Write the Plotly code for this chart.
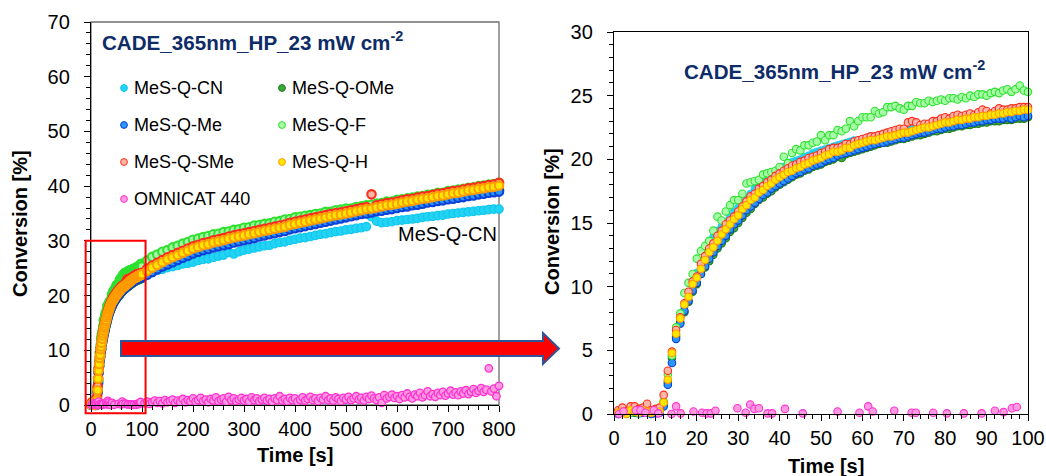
import plotly.graph_objects as go

W, H = 1046, 476

# ---------------------------------------------------------------------------
# Photo-DSC conversion data (CADE, 365 nm, 23 mW cm-2)
# ---------------------------------------------------------------------------
# fine sampling: 1 s steps over the first 100 s
t_fine = list(range(1, 101))
# coarse sampling for the long run: 10 s steps from 110 s to 800 s
t_coarse = list(range(110, 801, 10))

cn_fine = [
    0.0, 0.1, 0.0, 0.2, 0.1, 0.0, 0.1, 0.2, 0.1, 0.0,
    0.1, 0.7, 2.6, 4.5, 6.3, 7.4, 8.4, 9.4, 10.4, 11.1,
    11.9, 12.6, 13.3, 13.9, 14.4, 14.7, 15.1, 15.5, 15.9, 16.2,
    16.6, 17.0, 17.3, 17.7, 18.0, 18.3, 18.5, 18.8, 19.0, 19.2,
    19.4, 19.6, 19.8, 19.9, 20.0, 20.2, 20.3, 20.5, 20.6, 20.7,
    20.8, 20.9, 21.0, 21.1, 21.2, 21.3, 21.4, 21.5, 21.5, 21.6,
    21.7, 21.8, 21.8, 21.9, 22.0, 22.1, 22.1, 22.2, 22.3, 22.3,
    22.4, 22.4, 22.5, 22.6, 22.6, 22.7, 22.7, 22.8, 22.9, 22.9,
    23.0, 23.0, 23.1, 23.1, 23.2, 23.2, 23.2, 23.3, 23.3, 23.4,
    23.4, 23.4, 23.5, 23.5, 23.5, 23.6, 23.6, 23.6, 23.7, 23.7,
]
cn_coarse = [
    23.9, 24.2, 24.6, 24.8, 25.1, 25.3, 25.5, 25.8, 25.9, 26.1,
    26.4, 26.6, 26.7, 27.0, 27.2, 27.4, 27.9, 27.6, 28.0, 28.3,
    28.5, 28.7, 28.9, 29.1, 29.2, 29.5, 29.7, 29.8, 30.1, 30.3,
    30.5, 30.6, 30.8, 31.0, 31.2, 31.3, 31.5, 31.7, 31.8, 32.0,
    32.1, 32.3, 32.4, 32.6, 34.4, 33.6, 33.3, 33.4, 33.5, 33.7,
    33.8, 33.9, 34.0, 34.1, 34.3, 34.4, 34.5, 34.6, 34.7, 34.9,
    35.0, 35.1, 35.2, 35.3, 35.4, 35.5, 35.6, 35.7, 35.8, 35.8,
]

ome_fine = [
    0.1, 0.2, 0.3, 0.2, 0.1, 0.2, 0.3, 0.1, 0.2, 0.1,
    0.3, 0.9, 2.5, 4.4, 6.1, 7.2, 8.0, 8.8, 9.6, 10.2,
    11.0, 11.5, 12.0, 12.5, 13.0, 13.4, 13.8, 14.3, 14.6, 15.0,
    15.4, 15.8, 16.1, 16.5, 16.8, 17.0, 17.3, 17.5, 17.8, 18.0,
    18.2, 18.4, 18.6, 18.8, 18.9, 19.1, 19.2, 19.4, 19.5, 19.6,
    19.8, 19.9, 20.0, 20.2, 20.1, 20.4, 20.5, 20.6, 20.7, 20.8,
    20.9, 21.0, 21.1, 21.2, 21.3, 21.3, 21.4, 21.5, 21.6, 21.6,
    21.7, 21.8, 21.9, 21.9, 22.0, 22.1, 22.2, 22.2, 22.3, 22.4,
    22.4, 22.5, 22.6, 22.6, 22.7, 22.7, 22.8, 22.8, 22.9, 22.9,
    23.0, 23.0, 23.0, 23.1, 23.1, 23.1, 23.2, 23.2, 23.2, 23.3,
]
ome_coarse = [
    24.0, 24.5, 25.0, 25.4, 25.9, 26.3, 26.7, 27.1, 27.5, 27.9,
    28.2, 28.5, 28.7, 29.0, 29.2, 29.4, 29.6, 29.9, 30.1, 30.3,
    30.5, 30.7, 31.0, 31.2, 31.4, 31.6, 31.8, 32.0, 32.3, 32.5,
    32.7, 32.9, 33.1, 33.3, 33.5, 33.7, 33.9, 34.1, 34.3, 34.5,
    34.7, 34.9, 35.1, 35.2, 35.4, 35.6, 35.7, 35.9, 36.0, 36.2,
    36.4, 36.5, 36.7, 36.8, 37.0, 37.2, 37.3, 37.5, 37.6, 37.8,
    37.9, 38.1, 38.2, 38.4, 38.5, 38.7, 38.8, 39.0, 39.1, 39.3,
]

me_fine = [
    0.0, 0.1, 0.2, 0.1, 0.3, 0.2, 0.1, 0.2, 0.0, 0.1,
    0.1, 0.6, 2.3, 4.0, 5.9, 7.1, 8.1, 8.9, 9.7, 10.3,
    11.0, 11.6, 12.2, 12.7, 13.2, 13.6, 14.0, 14.5, 14.9, 15.2,
    15.6, 16.0, 16.3, 16.6, 16.9, 17.2, 17.4, 17.7, 17.9, 18.1,
    18.3, 18.5, 18.7, 18.9, 19.0, 19.2, 19.3, 19.5, 19.6, 19.7,
    19.9, 20.0, 20.1, 20.3, 20.4, 20.5, 20.6, 20.7, 20.8, 20.9,
    21.0, 21.1, 21.2, 21.3, 21.3, 21.4, 21.5, 21.6, 21.7, 21.7,
    21.8, 21.9, 22.0, 22.1, 22.1, 22.2, 22.3, 22.4, 22.4, 22.5,
    22.6, 22.6, 22.7, 22.7, 22.8, 22.9, 22.9, 23.0, 23.0, 23.1,
    23.1, 23.2, 23.2, 23.2, 23.3, 23.2, 23.3, 23.4, 23.3, 23.4,
]
me_coarse = [
    23.8, 24.3, 24.8, 25.3, 25.7, 26.1, 26.5, 26.9, 27.3, 27.7,
    28.0, 28.3, 28.5, 28.8, 29.0, 29.2, 29.4, 29.7, 29.9, 30.1,
    30.3, 30.5, 30.8, 31.0, 31.2, 31.4, 31.6, 31.8, 32.1, 32.3,
    32.5, 32.7, 32.9, 33.1, 33.3, 33.5, 33.7, 33.9, 34.1, 34.3,
    34.5, 34.7, 34.9, 35.0, 35.2, 35.4, 35.5, 35.7, 35.8, 36.0,
    36.2, 36.3, 36.5, 36.6, 36.8, 37.0, 37.1, 37.3, 37.4, 37.6,
    37.7, 37.9, 38.0, 38.2, 38.3, 38.5, 38.6, 38.8, 38.9, 39.0,
]

f_fine = [
    0.2, 0.1, 0.3, 0.1, 0.2, 0.4, 0.2, 0.1, 0.3, 0.2,
    0.3, 1.0, 3.1, 4.6, 6.8, 7.9, 9.5, 10.3, 11.0, 12.2,
    12.8, 13.2, 13.6, 14.4, 15.5, 15.2, 15.9, 16.4, 16.8, 16.8,
    17.3, 18.1, 18.2, 18.3, 18.4, 18.8, 18.9, 19.0, 19.1, 19.4,
    20.2, 19.7, 20.5, 20.8, 20.7, 21.1, 21.1, 21.3, 21.4, 21.9,
    21.5, 21.9, 21.9, 22.3, 22.2, 22.4, 23.0, 22.6, 23.0, 23.3,
    23.3, 23.3, 23.8, 23.6, 23.7, 24.1, 24.1, 24.2, 24.0, 23.9,
    24.2, 24.2, 24.5, 24.4, 24.4, 24.6, 24.5, 24.6, 24.7, 24.6,
    24.8, 24.8, 24.7, 24.9, 24.8, 25.0, 24.9, 25.1, 25.1, 25.0,
    25.2, 25.3, 25.2, 25.4, 25.5, 25.3, 25.5, 25.8, 25.4, 25.3,
]
f_coarse = [
    26.4, 27.1, 27.5, 28.0, 28.3, 28.8, 29.1, 29.5, 29.8, 30.2,
    30.4, 30.7, 30.9, 31.2, 31.3, 31.6, 31.7, 32.0, 32.1, 32.4,
    32.5, 32.8, 32.9, 33.1, 33.2, 33.5, 33.6, 33.9, 34.0, 34.3,
    34.4, 34.6, 34.7, 34.9, 35.0, 35.3, 35.3, 35.6, 35.7, 35.9,
    35.9, 36.2, 36.3, 36.5, 36.6, 36.8, 36.9, 37.2, 37.2, 37.5,
    37.6, 37.8, 37.9, 38.1, 38.2, 38.4, 38.5, 38.8, 38.8, 39.1,
    39.2, 39.4, 39.5, 39.7, 39.8, 40.0, 40.1, 40.3, 40.4, 40.6,
]

sme_fine = [
    0.3, 0.5, 0.2, 0.6, 0.6, 0.4, 0.5, 0.8, 0.3, 0.4,
    0.5, 1.5, 3.4, 4.9, 6.6, 7.6, 8.7, 9.6, 10.4, 10.8,
    11.8, 12.4, 13.0, 13.4, 14.0, 14.4, 14.9, 15.2, 15.5, 15.9,
    16.3, 16.7, 17.1, 17.3, 17.7, 17.9, 18.2, 18.4, 18.7, 18.9,
    19.1, 19.3, 19.5, 19.6, 19.8, 19.9, 20.1, 20.2, 20.3, 20.5,
    20.6, 20.8, 20.9, 20.9, 21.0, 21.2, 21.2, 21.4, 21.5, 21.6,
    21.7, 21.8, 21.8, 21.9, 22.0, 22.1, 22.2, 22.3, 22.4, 22.4,
    22.9, 23.0, 22.9, 22.7, 22.8, 22.8, 23.0, 23.0, 23.2, 23.3,
    23.2, 23.4, 23.5, 23.4, 23.5, 23.6, 23.5, 23.7, 23.9, 23.8,
    23.6, 23.8, 24.0, 23.9, 23.9, 24.0, 24.0, 24.1, 24.1, 24.1,
]
sme_coarse = [
    24.9, 25.5, 26.0, 26.5, 27.0, 27.4, 27.8, 28.2, 28.6, 29.0,
    29.3, 29.6, 29.8, 30.1, 30.3, 30.5, 30.8, 31.0, 31.2, 31.4,
    31.6, 31.8, 32.0, 32.2, 32.4, 32.6, 32.8, 33.0, 33.3, 33.5,
    33.7, 33.9, 34.1, 34.3, 34.5, 34.7, 34.9, 35.1, 35.2, 35.4,
    35.6, 35.8, 36.0, 36.2, 38.5, 36.5, 36.7, 36.9, 37.0, 37.2,
    37.4, 37.6, 37.7, 37.9, 38.1, 38.2, 38.4, 38.6, 38.7, 38.9,
    39.1, 39.2, 39.4, 39.6, 39.7, 39.9, 40.0, 40.2, 40.3, 40.6,
]

h_fine = [
    0.1, 0.2, 0.0, 0.3, 0.2, 0.1, 0.3, 0.2, 0.1, 0.2,
    0.2, 0.9, 2.7, 4.8, 6.3, 7.5, 8.6, 9.2, 10.2, 10.7,
    11.4, 12.1, 12.7, 13.1, 13.6, 14.1, 14.5, 14.9, 15.3, 15.6,
    16.1, 16.4, 16.8, 17.0, 17.4, 17.6, 17.9, 18.1, 18.4, 18.6,
    18.8, 19.0, 19.1, 19.3, 19.4, 19.6, 19.7, 19.9, 20.0, 20.1,
    20.3, 20.4, 20.6, 20.6, 20.7, 20.9, 20.9, 21.1, 21.2, 21.3,
    21.4, 21.5, 21.5, 21.6, 21.7, 21.8, 21.8, 21.9, 22.0, 22.1,
    22.1, 22.2, 22.3, 22.4, 22.5, 22.5, 22.6, 22.7, 22.8, 22.9,
    22.9, 23.0, 23.1, 23.1, 23.2, 23.2, 23.3, 23.3, 23.4, 23.4,
    23.5, 23.5, 23.6, 23.6, 23.7, 23.7, 23.8, 23.8, 23.9, 23.9,
]
h_coarse = [
    24.5, 25.1, 25.6, 26.1, 26.6, 27.0, 27.4, 27.8, 28.2, 28.6,
    28.9, 29.2, 29.4, 29.7, 29.9, 30.1, 30.4, 30.6, 30.8, 31.0,
    31.2, 31.4, 31.6, 31.8, 32.0, 32.2, 32.4, 32.6, 32.9, 33.1,
    33.3, 33.5, 33.7, 33.9, 34.1, 34.3, 34.5, 34.7, 34.8, 35.0,
    35.2, 35.4, 35.6, 35.8, 35.9, 36.1, 36.3, 36.5, 36.6, 36.8,
    37.0, 37.2, 37.3, 37.5, 37.7, 37.8, 38.0, 38.2, 38.3, 38.5,
    38.7, 38.8, 39.0, 39.2, 39.3, 39.5, 39.6, 39.8, 39.9, 40.1,
]

# reference photoinitiator: sparse early points, 5 s steps afterwards
omni_fine_t = [1.2, 2.3, 5.3, 6.4, 7.6, 9.6, 10.7, 13.9, 15.0, 16.1,
               19.2, 21.3, 22.4, 23.4, 24.5, 29.8, 31.8, 32.9, 33.9, 35.0,
               37.1, 38.2, 41.3, 45.6, 54.0, 59.3, 61.4, 62.5, 67.7, 71.9,
               72.9, 77.1, 80.4, 84.5, 88.8, 92.0, 94.1, 96.1, 97.3]
omni_fine_y = [0.0, 0.2, 0.3, 0.3, 0.1, 0.3, 0.05, 0.0, 0.6, 0.05,
               0.2, 0.1, 0.05, 0.05, 0.25, 0.45, 0.1, 0.75, 0.4, 0.45,
               0.05, 0.05, 0.4, 0.05, 0.2, 0.1, 0.6, 0.2, 0.25, 0.1,
               0.1, 0.1, 0.05, 0.05, 0.05, 0.25, 0.15, 0.45, 0.55]
omni_coarse = [
    0.3, 0.6, 0.2, 0.5, 0.8, 0.4, 0.7, 0.3, 0.9, 0.5,
    0.7, 1.0, 0.4, 0.8, 0.6, 1.1, 0.5, 0.9, 0.7, 1.2,
    0.6, 0.9, 1.3, 0.7, 1.0, 0.5, 1.1, 0.8, 1.4, 0.7,
    1.0, 1.2, 0.6, 1.5, 0.9, 1.2, 0.7, 1.0, 1.3, 0.8,
    1.1, 0.6, 1.4, 0.9, 1.2, 0.7, 1.0, 1.3, 0.8, 1.1,
    0.6, 1.2, 0.9, 1.6, 0.8, 1.1, 0.7, 1.3, 0.9, 1.2,
    0.6, 1.0, 1.4, 0.8, 1.1, 1.5, 0.9, 1.2, 0.7, 1.3,
    1.0, 1.6, 0.9, 1.2, 0.8, 1.4, 1.1, 0.7, 1.3, 1.0,
    1.5, 0.9, 1.2, 1.6, 1.0, 1.3, 0.8, 1.5, 1.1, 1.7,
    1.2, 0.9, 1.4, 0.4, 1.8, 1.2, 1.5, 1.9, 1.3, 1.6,
    1.1, 1.8, 1.4, 2.1, 1.5, 1.2, 1.9, 1.6, 2.2, 1.4,
    1.8, 2.5, 1.6, 2.0, 1.5, 2.2, 1.8, 2.4, 1.7, 2.1,
    2.6, 1.9, 2.3, 1.8, 2.5, 2.1, 2.7, 2.0, 2.4, 2.9,
    2.2, 2.6, 3.1, 2.4, 2.8, 6.7, 2.5, 3.0, 1.6, 3.5,
]
t_omni_coarse = [105 + 5 * i for i in range(len(omni_coarse))]

# name, fine values, coarse values, marker fill, marker outline, outline width
series = [
    ("MeS-Q-CN", cn_fine, cn_coarse, "#22D3F4", "#10C6EE", 0.6),
    ("MeS-Q-OMe", ome_fine, ome_coarse, "#3AA83A", "#1E7E1E", 1.1),
    ("MeS-Q-Me", me_fine, me_coarse, "#2A96F5", "#0A3FD8", 1.1),
    ("MeS-Q-F", f_fine, f_coarse, "#A6FFA6", "#2FE02F", 1.1),
    ("MeS-Q-SMe", sme_fine, sme_coarse, "#FFB6A6", "#FF2A1A", 1.1),
    ("MeS-Q-H", h_fine, h_coarse, "#FFE600", "#FF9C00", 1.1),
]
omni_style = ("OMNICAT 440", "#FF9ADF", "#FF30D2", 1.1)

FONT = "Arial, 'Liberation Sans', sans-serif"
NAVY = "#0E2C68"
MSIZE = 7.5
# the dense overview plot uses heavier outlines so the curves read as bands
OVERVIEW_EDGE = 2.1

fig = go.Figure()

for name, fine, coarse, fill, edge, lw in series:
    fig.add_trace(go.Scatter(
        x=t_fine + t_coarse, y=fine + coarse, mode="markers", name=name,
        marker=dict(size=MSIZE + 1, color=fill,
                    line=dict(color=edge, width=lw * OVERVIEW_EDGE / 1.1)),
        cliponaxis=False, showlegend=False, xaxis="x", yaxis="y"))
    fig.add_trace(go.Scatter(
        x=t_fine, y=fine, mode="markers", name=name,
        marker=dict(size=MSIZE, color=fill, line=dict(color=edge, width=lw)),
        cliponaxis=False, showlegend=False, xaxis="x2", yaxis="y2"))

o_name, o_fill, o_edge, o_lw = omni_style
fig.add_trace(go.Scatter(
    x=omni_fine_t + t_omni_coarse, y=omni_fine_y + omni_coarse,
    mode="markers", name=o_name,
    marker=dict(size=MSIZE, color=o_fill, line=dict(color=o_edge, width=1.3)),
    cliponaxis=False, showlegend=False, xaxis="x", yaxis="y"))
fig.add_trace(go.Scatter(
    x=omni_fine_t, y=omni_fine_y, mode="markers", name=o_name,
    marker=dict(size=MSIZE, color=o_fill, line=dict(color=o_edge, width=o_lw)),
    cliponaxis=False, showlegend=False, xaxis="x2", yaxis="y2"))


def px_x(px):
    return px / W


def px_y(py):
    return 1 - py / H


# plot-area boxes in pixels: (left, top, right, bottom)
LEFT_BOX = (91, 22, 499, 405)
RIGHT_BOX = (614, 32, 1028, 414)

tickfont = dict(family=FONT, size=20, color="black")


def axis(box, horizontal, rng, dtick, minor, mirror):
    if horizontal:
        dom = [px_x(box[0]), px_x(box[2])]
    else:
        dom = [px_y(box[3]), px_y(box[1])]
    return dict(
        domain=dom, range=rng, dtick=dtick, tick0=0,
        showgrid=False, zeroline=False, showline=True,
        linecolor="black", linewidth=1.3, mirror=mirror,
        ticks="outside", ticklen=6, tickwidth=1.2, tickcolor="black",
        minor=dict(dtick=minor, ticks="outside", ticklen=4,
                   tickwidth=1, tickcolor="black", showgrid=False),
        tickfont=tickfont, automargin=False, fixedrange=True,
        ticklabelstandoff=0 if horizontal else 10,
    )


fig.update_layout(
    width=W, height=H, autosize=False,
    margin=dict(l=0, r=0, t=0, b=0),
    paper_bgcolor="white", plot_bgcolor="white",
    font=dict(family=FONT, color="black"),
    showlegend=False,
    xaxis=axis(LEFT_BOX, True, [0, 800], 100, 20, False) | dict(anchor="y"),
    yaxis=axis(LEFT_BOX, False, [0, 70], 10, 2, False) | dict(anchor="x"),
    xaxis2=axis(RIGHT_BOX, True, [0, 100], 10, 2, True) | dict(anchor="y2"),
    yaxis2=axis(RIGHT_BOX, False, [0, 30], 5, 1, True) | dict(anchor="x2"),
)

shapes = []
# grey frame closing the left plot (top and right edges)
shapes.append(dict(type="rect", xref="paper", yref="paper", layer="below",
                   x0=px_x(LEFT_BOX[0]), x1=px_x(LEFT_BOX[2]),
                   y0=px_y(LEFT_BOX[3]), y1=px_y(LEFT_BOX[1]),
                   line=dict(color="#6F6F6F", width=1.3)))

# zoom window (0-100 s, 0-30 %) marked on the left plot
ZOOM_T = (-10.5, 107)
ZOOM_C = (-1.5, 30)


def left_to_paper(t, c):
    x0, y0, x1, y1 = LEFT_BOX
    px = x0 + (t - 0) / 800 * (x1 - x0)
    py = y1 - (c - 0) / 70 * (y1 - y0)
    return px_x(px), px_y(py)


zx0, zy0 = left_to_paper(ZOOM_T[0], ZOOM_C[0])
zx1, zy1 = left_to_paper(ZOOM_T[1], ZOOM_C[1])
shapes.append(dict(type="rect", xref="paper", yref="paper",
                   x0=zx0, x1=zx1, y0=zy0, y1=zy1,
                   line=dict(color="#FF0000", width=2)))

# block arrow pointing from the zoom window to the detailed plot
arrow_px = [(121, 341), (543, 341), (543, 333), (559, 348.5),
            (543, 364), (543, 356), (121, 356)]
path = "M " + " L ".join(f"{px_x(a):.5f},{px_y(b):.5f}" for a, b in arrow_px) + " Z"
shapes.append(dict(type="path", xref="paper", yref="paper", path=path,
                   fillcolor="#FF0000", line=dict(color="#2F5597", width=2)))

# legend drawn as a two-column block inside the left plot
legend_items = [(s[0], s[3], s[4]) for s in series] + [(o_name, o_fill, o_edge)]
annotations = []
for i, (name, fill, edge) in enumerate(legend_items):
    col, row = i % 2, i // 2
    cx = 124 + col * 158
    cy = 88 + row * 37
    r = 3.4
    shapes.append(dict(type="circle", xref="paper", yref="paper",
                       x0=px_x(cx - r), x1=px_x(cx + r),
                       y0=px_y(cy + r), y1=px_y(cy - r),
                       fillcolor=fill, line=dict(color=edge, width=1)))
    annotations.append(dict(text=name, xref="paper", yref="paper",
                            x=px_x(cx + 8), y=px_y(cy), xanchor="left",
                            yanchor="middle", showarrow=False,
                            font=dict(family=FONT, size=18, color="black")))

title_text = "<b>CADE_365nm_HP_23 mW cm<sup>-2</sup></b>"
annotations += [
    dict(text=title_text, x=px_x(100), y=px_y(41), xanchor="left",
         yanchor="middle"),
    dict(text=title_text, x=px_x(682), y=px_y(70), xanchor="left",
         yanchor="middle"),
]
for a in annotations[-2:]:
    a.update(xref="paper", yref="paper", showarrow=False,
             font=dict(family=FONT, size=20.6, color=NAVY))

axis_titles = [
    ("<b>Conversion [%]</b>", 20, 224, -90),
    ("<b>Conversion [%]</b>", 552, 222, -90),
    ("<b>Time [s]</b>", 295, 455, 0),
    ("<b>Time [s]</b>", 826, 466, 0),
]
for text, x, y, ang in axis_titles:
    annotations.append(dict(text=text, xref="paper", yref="paper",
                            x=px_x(x), y=px_y(y), xanchor="center",
                            yanchor="middle", textangle=ang, showarrow=False,
                            font=dict(family=FONT, size=20, color="black")))

annotations.append(dict(text="MeS-Q-CN", xref="paper", yref="paper",
                        x=px_x(499), y=px_y(234), xanchor="right",
                        yanchor="middle", showarrow=False,
                        font=dict(family=FONT, size=20, color="black")))

fig.update_layout(shapes=shapes, annotations=annotations)

fig.write_html("out.html")
